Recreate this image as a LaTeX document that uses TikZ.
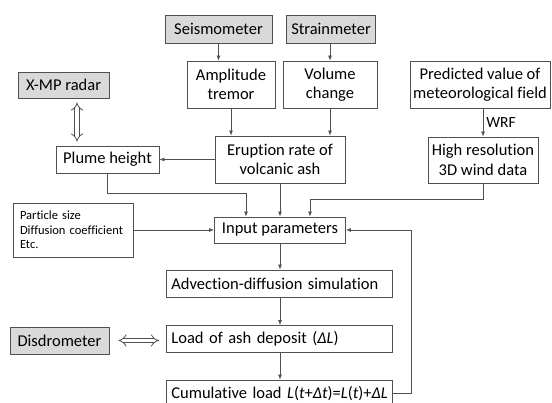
\documentclass[tikz,border=0pt]{standalone}
\usepackage{fontspec}
\setmainfont{Carlito}[Ligatures=NoCommon]
\usetikzlibrary{positioning, calc, arrows.meta}
\definecolor{linegray}{HTML}{505050}
\definecolor{boxgray}{HTML}{D9D9D9}

\begin{document}
\begin{tikzpicture}[x=1pt, y=-1pt,
    box/.style={rectangle, draw=linegray, line width=0.8pt, inner sep=2pt, align=center,
      font=\fontsize{16.5}{19.5}\selectfont},
    inst/.style={box, fill=boxgray},
    stepbox/.style={box, anchor=west, text width=216pt, inner xsep=5pt, align=left, minimum height=27pt},
    arrow/.style={-{Latex[length=5pt, width=4pt]}, draw=linegray, line width=0.8pt},
    dbl/.style={{Implies[length=6pt, width=13pt]}-{Implies[length=6pt, width=13pt]}, draw=linegray,
      double=white, double distance=3.5pt, line width=0.8pt}
  ]
  \useasboundingbox (0,0) rectangle (552,403);
  % sensors and derived values
  \node[inst, minimum width=107pt, minimum height=28pt] (seis) at (218.5,29) {Seismometer};
  \node[inst, minimum width=89pt, minimum height=28pt] (strain) at (331,29) {Strainmeter};
  \node[box, minimum width=88pt, minimum height=47pt] (amp) at (231,84.5) {Amplitude\\tremor};
  \node[box, minimum width=94pt, minimum height=47pt] (vol) at (330,84.5) {Volume\\change};
  \node[box, minimum width=140pt, minimum height=47pt] (pred) at (480,84.5) {Predicted value of\\meteorological field};
  \node[inst, minimum width=91pt, minimum height=26pt] (xmp) at (63.5,85) {X-MP radar};
  \node[box, minimum width=130pt, minimum height=47pt] (erupt) at (280,159.5) {Eruption rate of\\volcanic ash};
  \node[box, minimum width=110pt, minimum height=46pt] (wind) at (483,160) {High resolution\\3D wind data};
  \node[box, minimum width=103pt, minimum height=27pt] (plume) at (107.5,159.5) {Plume height};
  % simulation chain
  \node[box, text width=106pt, inner xsep=7pt, align=left, minimum height=54pt,
    font=\fontsize{12.5}{14.5}\selectfont] (param) at (73,230) {Particle size\\Diffusion coefficient\\Etc.};
  \node[box, minimum width=131pt, minimum height=26pt] (input) at (280,230) {Input parameters};
  \node[stepbox] (advec) at (166,283.5) {Advection-diffusion simulation};
  \node[stepbox] (load) at (166,339) {Load of ash deposit (\textit{ΔL})};
  \node[stepbox] (cumul) at (166,393.5) {Cumulative~load~\textit{L}(\textit{t}+\textit{Δt})=\textit{L}(\textit{t})+\textit{ΔL}};
  \node[inst, minimum width=99pt, minimum height=27pt] (disd) at (59.5,340.5) {Disdrometer};

  \draw[arrow] (seis.south) -- (seis.south |- amp.north);
  \draw[arrow] (vol.north |- strain.south) -- (vol.north);
  \draw[arrow] (amp.south) -- (amp.south |- erupt.north);
  \draw[arrow] (vol.south) -- (vol.south |- erupt.north);
  \draw[arrow] (wind.north |- pred.south) -- node[right, inner sep=3pt,
    font=\fontsize{15.5}{18}\selectfont] {WRF} (wind.north);
  \draw[arrow] (erupt.west) -- (plume.east);
  \draw[dbl, shorten <=4pt, shorten >=4pt] ([xshift=13.5pt]xmp.south) -- ([xshift=13.5pt]xmp.south |- plume.north);
  \draw[arrow] (plume.south) -- ++(0,20) -| ([xshift=-34pt]input.north);
  \draw[arrow] (erupt.south) -- (input.north);
  \draw[arrow] (wind.south) -- ++(0,16) -| ([xshift=30pt]input.north);
  \draw[arrow] (param.east) -- (input.west);
  \draw[arrow] (input.south) -- (input.south |- advec.north);
  \draw[arrow] (input.south |- advec.south) -- (input.south |- load.north);
  \draw[arrow] (input.south |- load.south) -- (input.south |- cumul.north);
  \draw[dbl, shorten <=9pt, shorten >=7pt] (disd.east) -- (disd.east -| load.west);
  \draw[arrow] (cumul.east) -- ++(19,0) |- (input.east);
\end{tikzpicture}
\end{document}
